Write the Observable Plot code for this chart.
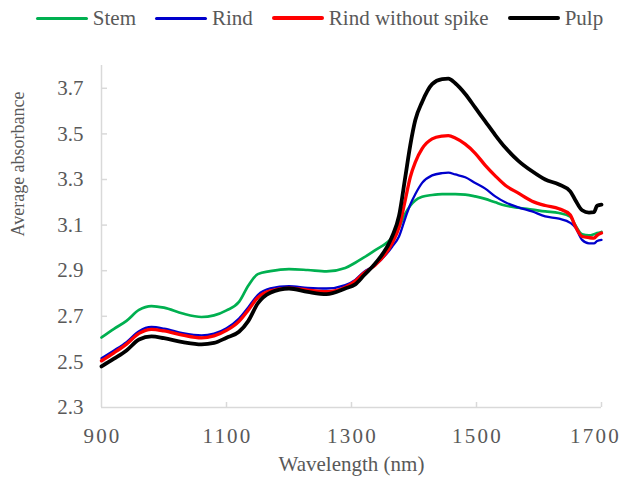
<!DOCTYPE html>
<html>
<head>
<meta charset="utf-8">
<script src="https://cdn.jsdelivr.net/npm/d3@7"></script>
<script src="https://cdn.jsdelivr.net/npm/@observablehq/plot@0.6"></script>
<style>
  html, body { margin: 0; padding: 0; background: #fff; }
  #wrap { width: 625px; height: 477px; position: relative; font-family: 'Liberation Serif', serif; color: #595959; }
  #legend { height: 36px; display: flex; align-items: center; justify-content: center; padding-left: 14px; box-sizing: border-box; font-size: 21px; gap: 19px; }
  .item { display: flex; align-items: center; gap: 5px; }
  .swatch { width: 52px; height: 3px; border-radius: 2px; }
</style>
</head>
<body>
<div id="wrap">
  <div id="legend"></div>
  <div id="chart"></div>
</div>
<script>
const seriesNames = ["Stem", "Rind", "Rind without spike", "Pulp"];
const seriesColors = ["#00b050", "#0000cc", "#ff0000", "#000000"];
const seriesWidths = [2.7, 2.3, 3.3, 3.8];

const wavelength = [900, 920, 940, 960, 980, 1000, 1030, 1060, 1080, 1100, 1120, 1135, 1150, 1170, 1200, 1230, 1260, 1290, 1306, 1320, 1338, 1365, 1376, 1386, 1394, 1402, 1413, 1429, 1445, 1455, 1466, 1482, 1498, 1514, 1530, 1546, 1567, 1589, 1610, 1632, 1650, 1658, 1669, 1680, 1688, 1693, 1700];

const stem = [2.607, 2.645, 2.68, 2.728, 2.745, 2.738, 2.712, 2.697, 2.704, 2.726, 2.763, 2.835, 2.885, 2.898, 2.907, 2.903, 2.897, 2.912, 2.935, 2.958, 2.99, 3.045, 3.09, 3.15, 3.185, 3.208, 3.224, 3.232, 3.236, 3.236, 3.236, 3.234, 3.226, 3.215, 3.2, 3.186, 3.176, 3.168, 3.16, 3.153, 3.137, 3.1, 3.06, 3.055, 3.06, 3.065, 3.07];

const rind = [2.516, 2.55, 2.587, 2.635, 2.653, 2.646, 2.626, 2.616, 2.624, 2.648, 2.69, 2.74, 2.793, 2.822, 2.832, 2.825, 2.822, 2.837, 2.86, 2.895, 2.925, 3.005, 3.05, 3.13, 3.19, 3.235, 3.285, 3.318, 3.328, 3.33, 3.322, 3.31, 3.285, 3.26, 3.226, 3.2, 3.178, 3.16, 3.138, 3.128, 3.11, 3.09, 3.035, 3.02, 3.02, 3.03, 3.035];

const rindNoSpike = [2.505, 2.54, 2.578, 2.625, 2.643, 2.636, 2.617, 2.605, 2.614, 2.638, 2.678, 2.728, 2.782, 2.812, 2.824, 2.815, 2.808, 2.828, 2.855, 2.89, 2.925, 3.02, 3.09, 3.21, 3.31, 3.375, 3.435, 3.478, 3.49, 3.492, 3.482, 3.455, 3.415, 3.362, 3.316, 3.275, 3.24, 3.205, 3.186, 3.172, 3.145, 3.095, 3.05, 3.045, 3.043, 3.055, 3.065];

const pulp = [2.48, 2.514, 2.55, 2.598, 2.612, 2.604, 2.587, 2.577, 2.583, 2.606, 2.632, 2.68, 2.756, 2.803, 2.822, 2.807, 2.797, 2.822, 2.84, 2.88, 2.932, 3.05, 3.14, 3.31, 3.45, 3.56, 3.64, 3.718, 3.74, 3.742, 3.722, 3.675, 3.615, 3.555, 3.495, 3.44, 3.382, 3.336, 3.3, 3.278, 3.248, 3.21, 3.165, 3.155, 3.157, 3.185, 3.19];

const xTicks = [900, 1100, 1300, 1500, 1700];
const yTicks = [2.3, 2.5, 2.7, 2.9, 3.1, 3.3, 3.5, 3.7];

const allSeries = [stem, rind, rindNoSpike, pulp];
const rows = [];
allSeries.forEach((vals, si) => {
  vals.forEach((v, i) => rows.push({series: seriesNames[si], wl: wavelength[i], abs: v}));
});

// legend
const legend = document.getElementById("legend");
seriesNames.forEach((n, i) => {
  const it = document.createElement("div");
  it.className = "item";
  const sw = document.createElement("div");
  sw.className = "swatch";
  sw.style.background = seriesColors[i];
  sw.style.height = (i >= 2 ? 3.5 : 3) + "px";
  const tx = document.createElement("span");
  tx.textContent = n;
  it.appendChild(sw); it.appendChild(tx);
  legend.appendChild(it);
});

const axisColor = "#d9d9d9";
const chart = Plot.plot({
  width: 625,
  height: 441,
  marginTop: 29,
  marginBottom: 70,
  marginLeft: 101,
  marginRight: 24,
  style: {fontFamily: "Liberation Serif", fontSize: "21px", color: "#595959", background: "#fff"},
  x: {domain: [900, 1700]},
  y: {domain: [2.3, 3.8]},
  marks: [
    Plot.ruleX([900], {stroke: axisColor, strokeWidth: 1.5}),
    Plot.ruleY([2.3], {stroke: axisColor, strokeWidth: 1.5}),
    Plot.axisY(yTicks, {tickSize: 0, tickPadding: 18, label: null, fill: "#595959", tickFormat: d3.format(".1f")}),
    Plot.axisY(yTicks.slice(1), {tickSize: -6, tickFormat: () => "", label: null, stroke: axisColor, strokeWidth: 1.5}),
    Plot.axisX(xTicks.slice(0, -1), {tickSize: 0, tickPadding: 21, label: null, fill: "#595959", dx: 1, tickFormat: d => String(d)}),
    Plot.axisX(xTicks.slice(-1), {tickSize: 0, tickPadding: 21, label: null, fill: "#595959", dx: -6, tickFormat: d => String(d)}),
    Plot.axisX(xTicks.slice(1), {tickSize: -5, tickFormat: () => "", label: null, stroke: axisColor, strokeWidth: 1.5}),
    ...seriesNames.map((n, i) => Plot.line(rows.filter(r => r.series === n), {
      x: "wl", y: "abs", stroke: seriesColors[i], strokeWidth: seriesWidths[i], curve: "monotone-x"
    })),
    Plot.text(["Wavelength (nm)"], {frameAnchor: "bottom", lineAnchor: "middle", dy: 57, fill: "#595959", fontSize: 21}),
    Plot.text(["Average absorbance"], {frameAnchor: "left", rotate: -90, dx: -83, lineAnchor: "middle", fill: "#595959", fontSize: 18})
  ]
});
document.getElementById("chart").appendChild(chart);
d3.select(chart).selectAll('[aria-label="x-axis tick label"] text').attr("letter-spacing", "2.2px");
</script>
</body>
</html>
